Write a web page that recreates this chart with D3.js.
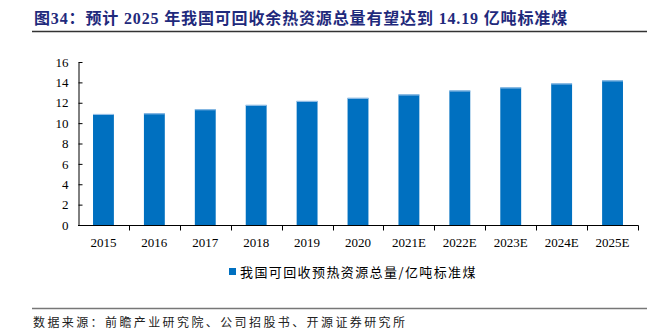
<!DOCTYPE html>
<html><head><meta charset="utf-8">
<script src="https://cdn.jsdelivr.net/npm/d3@7/dist/d3.min.js"></script>
<style>
body{margin:0;background:#fff;}
svg{display:block;}
</style></head>
<body>
<svg id="c" width="665" height="332"></svg>
<script>
const categories = ["2015","2016","2017","2018","2019","2020","2021E","2022E","2023E","2024E","2025E"];
const values = [10.9, 10.96, 11.36, 11.79, 12.18, 12.48, 12.81, 13.2, 13.5, 13.89, 14.19];
const yTicks = [0,2,4,6,8,10,12,14,16];
const seriesName = "我国可回收预热资源总量/亿吨标准煤";
const titleText = "图34：预计 2025 年我国可回收余热资源总量有望达到 14.19 亿吨标准煤";
const sourceText = "数据来源：前瞻产业研究院、公司招股书、开源证券研究所";

const svg = d3.select("#c");
const serif = "'Liberation Serif','Times New Roman',serif";
const cjk = "'Noto Sans CJK SC',sans-serif";

// title
svg.append("text").attr("x",34).attr("y",24)
  .attr("font-family", serif + ",'Noto Sans CJK SC'")
  .attr("font-weight","bold").attr("font-size",16).attr("fill","#1f2a7c")
  .attr("letter-spacing",0.85)
  .text(titleText);
svg.append("line").attr("x1",32).attr("x2",647).attr("y1",31.5).attr("y2",31.5)
  .attr("stroke","#333").attr("stroke-width",1.5);

const x = d3.scaleBand().domain(categories).range([78,638]).paddingInner(0.59).paddingOuter(0.295);
const y = d3.scaleLinear().domain([0,16]).range([225,62]);

// bars
svg.append("g").selectAll("rect").data(values).join("rect")
  .attr("x",(d,i)=>x(categories[i]))
  .attr("width",x.bandwidth())
  .attr("y",d=>y(d))
  .attr("height",d=>y(0)-y(d))
  .attr("fill","#0070c0");
svg.append("g").selectAll("line").data(values).join("line")
  .attr("x1",(d,i)=>x(categories[i])).attr("x2",(d,i)=>x(categories[i])+x.bandwidth())
  .attr("y1",d=>y(d)+0.5).attr("y2",d=>y(d)+0.5)
  .attr("stroke","#9cc3e8").attr("stroke-width",1);

// y axis
const ya = svg.append("g").attr("transform","translate(78.5,0)")
  .call(d3.axisLeft(y).tickValues(yTicks).tickSizeInner(-4).tickSizeOuter(0).tickPadding(10));
ya.select(".domain").attr("stroke","#000");
ya.selectAll(".tick line").attr("stroke","#000");
ya.selectAll("text").attr("font-family",serif).attr("font-size",13).attr("fill","#000");

// x axis
const xb = d3.scaleLinear().domain([0,categories.length]).range([78,638]);
const xa = svg.append("g").attr("transform","translate(0,225.5)");
xa.append("line").attr("x1",78).attr("x2",638.5).attr("stroke","#000");
xa.selectAll(".tk").data(d3.range(1,categories.length+1)).join("line")
  .attr("x1",d=>Math.round(xb(d))+0.5).attr("x2",d=>Math.round(xb(d))+0.5)
  .attr("y1",0).attr("y2",5).attr("stroke","#000");
xa.selectAll("text").data(categories).join("text")
  .attr("x",d=>x(d)+x.bandwidth()/2).attr("y",21)
  .attr("text-anchor","middle").attr("font-family",serif).attr("font-size",13).attr("fill","#000")
  .text(d=>d);

// legend
svg.append("rect").attr("x",229).attr("y",268).attr("width",7).attr("height",7).attr("fill","#0070c0");
svg.append("text").attr("x",240).attr("y",276.5).attr("font-family",cjk).attr("font-size",13).attr("fill","#000")
  .attr("letter-spacing",1.4)
  .text(seriesName);

// footer
svg.append("line").attr("x1",32).attr("x2",647).attr("y1",308.5).attr("y2",308.5)
  .attr("stroke","#777").attr("stroke-width",1.5);
svg.append("text").attr("x",33).attr("y",327).attr("font-family",cjk).attr("font-size",12).attr("fill","#222")
  .attr("letter-spacing",2.4)
  .text(sourceText);
</script>
</body></html>
